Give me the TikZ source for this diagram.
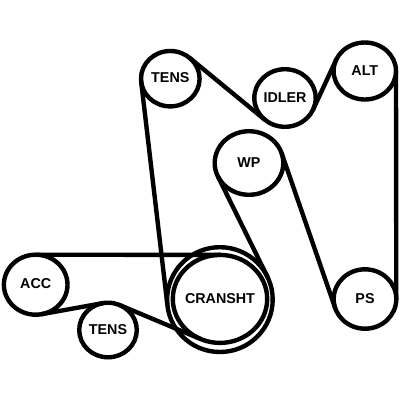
\documentclass[tikz,border=0pt]{standalone}
\usepackage{fontspec}
\setmainfont{Liberation Sans}
\usetikzlibrary{shapes.geometric}
\tikzset{
  pulleytext/.style={inner sep=0pt,outer sep=0pt,text height=10.3pt,text depth=2pt,
    font=\bfseries\fontsize{14.3}{16}\selectfont},
  pulley/.style n args={2}{pulleytext,ellipse,draw=black,line width=4.4pt,fill=none,
    minimum width=#1pt,minimum height=#2pt},
  belt/.style={draw=black,line width=4.4pt,line cap=round}
}
\begin{document}
\begin{tikzpicture}[x=1pt,y=-1pt]
\useasboundingbox (0,0) rectangle (400,400);
\node[pulley={63.6}{60}] (acc) at (35.7,284.7) {ACC};
\node[pulley={57.6}{54.6}] (tenslow) at (108,330) {TENS};
\node[pulley={94.4}{88}] (crank) at (220,298.9) {};
\node[pulleytext] (cranklabel) at (crank.center) {CRANSHT};
\node[pulley={105.6}{104.8}] (ring) at (219.9,299.6) {};
\node[pulley={58.6}{55.4}] (tensup) at (170.3,78.7) {TENS};
\node[pulley={61.4}{57.6}] (idler) at (285,98) {IDLER};
\node[pulley={62.4}{57}] (alt) at (364.8,71) {ALT};
\node[pulley={68.6}{63.6}] (wp) at (249,163) {WP};
\node[pulley={62.6}{59.4}] (ps) at (365,299) {PS};
\draw[belt] (acc.90) -- (crank.90);
\draw[belt] (acc.-78.6) -- (tenslow.101.4);
\draw[belt] (tenslow.64.7) -- (crank.244.5);
\draw[belt] (tensup.185.4) -- (ring.185.6);
\draw[belt] (tensup.47.4) -- (idler.227.2);
\draw[belt] (idler.-22.7) -- (alt.157.5);
\draw[belt] (alt.0) -- (ps.0);
\draw[belt] (wp.16.9) -- (ps.197.4);
\draw[belt] (wp.204.2) -- (ring.25.5);
\end{tikzpicture}
\end{document}
